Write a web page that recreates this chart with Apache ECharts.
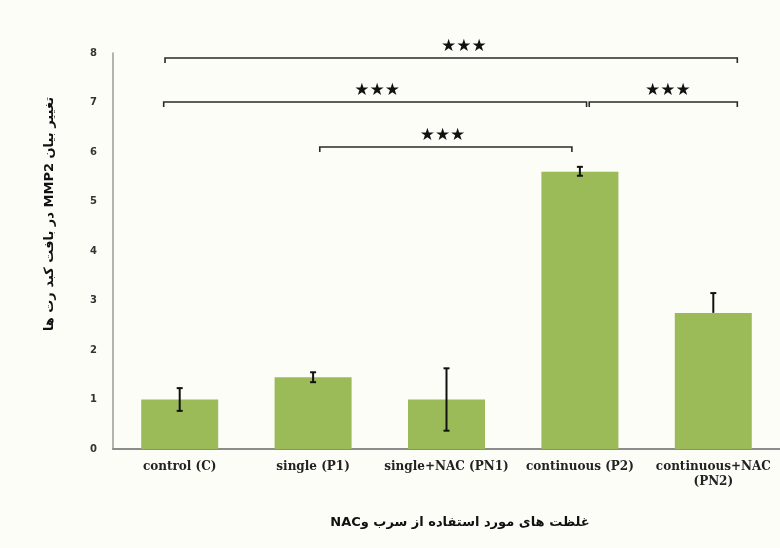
<!DOCTYPE html>
<html>
<head>
<meta charset="utf-8">
<script src="https://cdn.jsdelivr.net/npm/echarts@6/dist/echarts.min.js"></script>
<style>
  html, body { margin: 0; padding: 0; background: #fdfdf8; }
  #chart { width: 780px; height: 548px; }
</style>
</head>
<body>
<div id="chart"></div>
<script>
// Groups and MMP2 expression (mean with error range)
const categories = ['control (C)', 'single (P1)', 'single+NAC (PN1)', 'continuous (P2)', 'continuous+NAC\n(PN2)'];
const means = [1.0, 1.45, 1.0, 5.6, 2.75];
const errLow = [0.23, 0.1, 0.63, 0.08, 0.0];
const errHigh = [0.23, 0.1, 0.63, 0.1, 0.4];
const yTicks = [0, 1, 2, 3, 4, 5, 6, 7, 8];

// Significance brackets: [from, to, level, mark], from/to in category units
const bracketFrom = [-0.11, -0.12, 3.07, 1.05];
const bracketTo = [4.18, 3.05, 4.18, 2.94];
const bracketLevel = [7.90, 7.01, 7.01, 6.10];
const bracketStarAt = [2.13, 1.48, 3.66, 1.97];
const bracketMark = ['★★★', '★★★', '★★★', '★★★'];

// Persian titles, wrapped in a right-to-left embedding
const rtl = s => '\u202B' + s + '\u202C';
const yTitle = 'تغییر بیان MMP2 در بافت کبد رت ها';
const xTitle = 'غلظت های مورد استفاده از سرب وNAC';

const errData = means.map((m, i) => [i, m - errLow[i], m + errHigh[i]]);
const bracketData = bracketFrom.map((f, i) => [f, bracketTo[i], bracketLevel[i], bracketStarAt[i], bracketMark[i]]);

const chart = echarts.init(document.getElementById('chart'), null, { renderer: 'canvas' });

const grid = { left: 113, top: 53, width: 670, height: 396 };

chart.setOption({
  backgroundColor: '#fdfdf8',
  animation: false,
  grid: grid,
  xAxis: [{
    type: 'category',
    data: categories,
    axisLine: { lineStyle: { color: '#8c8c8c', width: 2 } },
    axisTick: { show: false },
    axisLabel: {
      interval: 0,
      margin: 10,
      fontFamily: '"DejaVu Serif", serif',
      fontWeight: 'bold',
      fontSize: 12,
      color: '#222',
      lineHeight: 15
    }
  }, {
    type: 'value',
    min: -0.5,
    max: 4.5,
    show: false
  }],
  yAxis: {
    type: 'value',
    min: yTicks[0],
    max: yTicks[yTicks.length - 1],
    interval: 1,
    splitLine: { show: false },
    axisLine: { show: true, onZero: false, lineStyle: { color: '#9a9a9a', width: 1.5 } },
    axisTick: { show: false },
    axisLabel: {
      margin: 16,
      fontFamily: '"DejaVu Sans", sans-serif',
      fontWeight: 'bold',
      fontSize: 10,
      color: '#333'
    }
  },
  series: [{
    type: 'bar',
    data: means,
    barWidth: 77,
    itemStyle: { color: '#9bbb59' },
    z: 2
  }, {
    type: 'custom',
    data: errData,
    z: 3,
    renderItem: function (params, api) {
      const x = api.value(0);
      const lo = api.coord([x, api.value(1)]);
      const hi = api.coord([x, api.value(2)]);
      const cap = 3;
      const style = { stroke: '#111', lineWidth: 2 };
      const kids = [
        { type: 'line', shape: { x1: hi[0], y1: hi[1], x2: lo[0], y2: lo[1] }, style: style },
        { type: 'line', shape: { x1: hi[0] - cap, y1: hi[1], x2: hi[0] + cap, y2: hi[1] }, style: style }
      ];
      if (Math.abs(lo[1] - api.coord([x, means[x]])[1]) > 1) {
        kids.push({ type: 'line', shape: { x1: lo[0] - cap, y1: lo[1], x2: lo[0] + cap, y2: lo[1] }, style: style });
      }
      return { type: 'group', children: kids };
    }
  }, {
    type: 'custom',
    xAxisIndex: 1,
    data: bracketData,
    z: 4,
    renderItem: function (params, api) {
      const a = api.coord([api.value(0), api.value(2)]);
      const b = api.coord([api.value(1), api.value(2)]);
      const s = api.coord([api.value(3), api.value(2)]);
      const tick = 5;
      return {
        type: 'group',
        children: [{
          type: 'polyline',
          shape: { points: [[a[0], a[1] + tick], [a[0], a[1]], [b[0], b[1]], [b[0], b[1] + tick]] },
          style: { stroke: '#2a2a2a', lineWidth: 1.6, fill: null }
        }, {
          type: 'text',
          style: {
            x: s[0], y: s[1] - 11,
            text: bracketData[params.dataIndex][4],
            align: 'center', verticalAlign: 'middle',
            font: '17px "DejaVu Sans", sans-serif',
            fill: '#111'
          }
        }]
      };
    }
  }],
  graphic: [{
    type: 'text',
    x: 50, y: 214,
    rotation: Math.PI / 2,
    style: {
      text: rtl(yTitle),
      align: 'center', verticalAlign: 'middle',
      font: 'bold 13px "DejaVu Sans", sans-serif',
      fill: '#111'
    }
  }, {
    type: 'text',
    x: 460, y: 523,
    style: {
      text: rtl(xTitle),
      align: 'center', verticalAlign: 'middle',
      font: 'bold 13px "DejaVu Sans", sans-serif',
      fill: '#111'
    }
  }]
});
</script>
</body>
</html>
